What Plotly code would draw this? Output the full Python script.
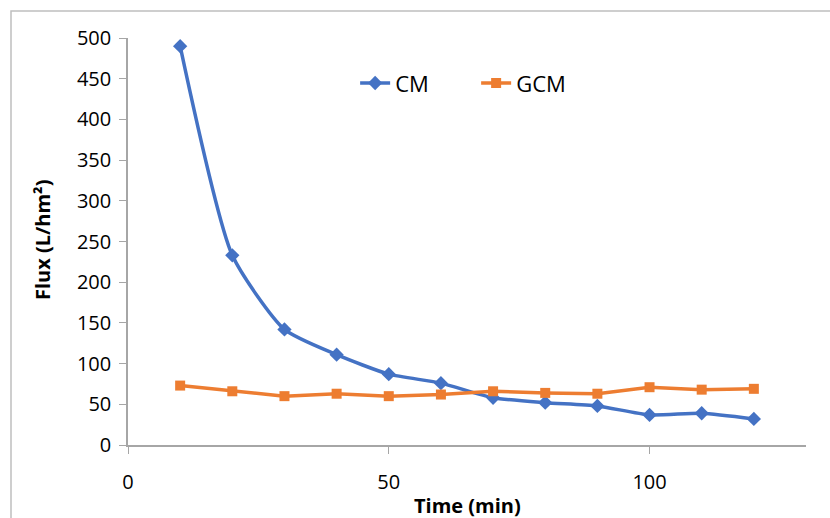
import plotly.graph_objects as go

time_min = [10, 20, 30, 40, 50, 60, 70, 80, 90, 100, 110, 120]
cm_flux = [490, 233, 142, 111, 87, 76, 58, 52, 48, 37, 39, 32]
gcm_flux = [73, 66, 60, 63, 60, 62, 66, 64, 63, 71, 68, 69]

W, H = 830, 518
ml, mr, mt, mb = 128, 24, 38, 73
pw, ph = W - ml - mr, H - mt - mb

fig = go.Figure()
fig.add_trace(go.Scatter(
    x=time_min, y=cm_flux, name="CM", mode="lines+markers",
    line=dict(color="#4472C4", width=3.5, shape="spline", smoothing=0.6),
    marker=dict(symbol="diamond", size=11, color="#4472C4"),
))
fig.add_trace(go.Scatter(
    x=time_min, y=gcm_flux, name="GCM", mode="lines+markers",
    line=dict(color="#ED7D31", width=3.5),
    marker=dict(symbol="square", size=10, color="#ED7D31"),
))

font_family = "Open Sans, Noto Sans, Liberation Sans, sans-serif"
fig.update_layout(
    width=W, height=H,
    margin=dict(l=ml, r=mr, t=mt, b=mb),
    paper_bgcolor="white", plot_bgcolor="white",
    font=dict(family=font_family, size=20, color="black"),
    showlegend=True,
    legend=dict(orientation="h", x=0.335, y=0.889, xanchor="left", yanchor="middle",
                font=dict(size=22), bgcolor="rgba(0,0,0,0)",
                entrywidth=76, entrywidthmode="pixels", tracegroupgap=0),
    xaxis=dict(range=[0, 130], tickvals=[0, 50, 100], showgrid=False, zeroline=False,
               showline=True, linecolor="#A6A6A6", linewidth=1.5, automargin=False,
               ticks="outside", ticklen=7, tickcolor="#A6A6A6",
               tickfont=dict(size=20), ticklabelstandoff=11),
    yaxis=dict(range=[0, 500], tickvals=list(range(0, 501, 50)), showgrid=False, zeroline=False,
               showline=True, linecolor="#A6A6A6", linewidth=1.5, automargin=False,
               ticks="outside", ticklen=7, tickcolor="#A6A6A6",
               tickfont=dict(size=20), ticklabelstandoff=4),
    annotations=[
        dict(text="<b>Time (min)</b>", xref="paper", yref="paper",
             x=(467 - ml) / pw, y=(H - mb - 505) / ph, xanchor="center", yanchor="middle",
             showarrow=False, font=dict(size=20)),
        dict(text="<b>Flux (L/hm²)</b>", xref="paper", yref="paper",
             x=(42 - ml) / pw, y=(H - mb - 240) / ph, xanchor="center", yanchor="middle",
             textangle=-90, showarrow=False, font=dict(size=20)),
    ],
)

fig.add_shape(type="rect", xref="paper", yref="paper",
              x0=(11 - ml) / pw, x1=1.2, y0=-0.4, y1=(H - mb - 11) / ph,
              line=dict(color="#BFBFBF", width=1.5), fillcolor="rgba(0,0,0,0)", layer="below")

fig.write_html("out.html")
